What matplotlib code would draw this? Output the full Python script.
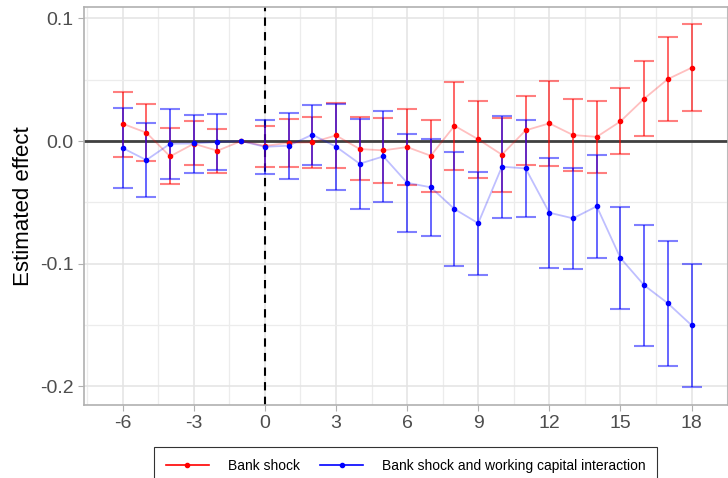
import matplotlib
matplotlib.use("Agg")
import matplotlib.pyplot as plt
from matplotlib.ticker import MultipleLocator
import numpy as np

plt.rcParams['font.family'] = ['Liberation Sans', 'DejaVu Sans']
plt.rcParams['axes.unicode_minus'] = False

periodos = [-6, -5, -4, -3, -2, -1, 0, 1, 2, 3, 4, 5, 6, 7, 8, 9, 10, 11, 12, 13, 14, 15, 16, 17, 18]

# Bank shock
banco = [0.0141, 0.0068, -0.0125, -0.0022, -0.0079, 0.0, -0.0040, -0.0014, -0.0011, 0.0046, -0.0065, -0.0076, -0.0049,
         -0.0120, 0.0125, 0.0014, -0.0111, 0.0087, 0.0144, 0.0049, 0.0034, 0.0160, 0.0345, 0.0505, 0.0597]
banco_sup = [0.0402, 0.0301, 0.0103, 0.0160, 0.0100, 0.0, 0.0120, 0.0182, 0.0195, 0.0307, 0.0198, 0.0190, 0.0258,
             0.0174, 0.0483, 0.0323, 0.0190, 0.0369, 0.0489, 0.0345, 0.0323, 0.0429, 0.0649, 0.0847, 0.0950]
banco_inf = [-0.0128, -0.0163, -0.0347, -0.0195, -0.0258, 0.0, -0.0214, -0.0214, -0.0217, -0.0223, -0.0320, -0.0340, -0.0356,
             -0.0415, -0.0236, -0.0299, -0.0415, -0.0195, -0.0204, -0.0247, -0.0260, -0.0108, 0.0041, 0.0160, 0.0244]

# Bank shock x working capital
inter = [-0.0057, -0.0155, -0.0022, -0.0020, -0.0008, 0.0, -0.0047, -0.0038, 0.0052, -0.0046, -0.0185, -0.0125, -0.0340,
         -0.0377, -0.0554, -0.0670, -0.0209, -0.0223, -0.0584, -0.0630, -0.0532, -0.0953, -0.1175, -0.1322, -0.1501]
inter_sup = [0.0271, 0.0147, 0.0263, 0.0212, 0.0222, 0.0, 0.0168, 0.0230, 0.0296, 0.0300, 0.0182, 0.0242, 0.0059,
             0.0019, -0.0087, -0.0252, 0.0204, 0.0174, -0.0136, -0.0220, -0.0117, -0.0540, -0.0681, -0.0812, -0.1002]
inter_inf = [-0.0383, -0.0453, -0.0310, -0.0258, -0.0236, 0.0, -0.0266, -0.0307, -0.0198, -0.0396, -0.0551, -0.0497, -0.0741,
             -0.0771, -0.1018, -0.1091, -0.0630, -0.0622, -0.1034, -0.1042, -0.0950, -0.1368, -0.1672, -0.1832, -0.2001]

x = np.array(periodos)

fig = plt.figure(figsize=(7.28, 4.78), dpi=100)
ax = fig.add_axes([0.1154, 0.153, 0.884, 0.832])

ax.axhline(0, color="#404040", lw=2, zorder=2)
ax.axvline(0, color="black", lw=1.5, ls=(0, (4, 3)), zorder=2)

for y, sup, inf, col, lab in [(banco, banco_sup, banco_inf, "red", "Bank shock"),
                              (inter, inter_sup, inter_inf, "blue", "Bank shock and working capital interaction")]:
    y = np.array(y)
    err = [y - np.array(inf), np.array(sup) - y]
    mask = x != -1
    _, caps, barras = ax.errorbar(x[mask], y[mask], yerr=[err[0][mask], err[1][mask]], fmt="none",
                                  ecolor=col, elinewidth=1.2, capsize=7, capthick=1.5, zorder=3)
    for c in caps:
        c.set_alpha(0.5)
    for b in barras:
        b.set_alpha(0.7)
    ax.plot(x, y, color=col, lw=1.3, alpha=0.25, zorder=3)
    ax.plot(x, y, ls="none", marker="o", ms=3, color=col, zorder=4)
    ax.plot([], [], color=col, marker="o", ms=3, lw=1.2, label=lab)

ax.set_xlim(-7.63, 19.52)
ax.set_ylim(-0.215, 0.1091)
ax.xaxis.set_major_locator(MultipleLocator(3))
ax.xaxis.set_minor_locator(MultipleLocator(1.5))
ax.yaxis.set_major_locator(MultipleLocator(0.1))
ax.yaxis.set_minor_locator(MultipleLocator(0.05))
ax.set_yticks([0.1, 0.0, -0.1, -0.2])
ax.set_yticklabels(["0.1", "0.0", "-0.1", "-0.2"])
ax.grid(which="major", color="#e3e3e3", lw=1.1, zorder=0)
ax.grid(which="minor", color="#ececec", lw=0.9, zorder=0)
ax.set_axisbelow(True)
ax.tick_params(which="major", length=4, color="#b0b0b0", labelsize=14, labelcolor="#4d4d4d")
ax.tick_params(which="minor", length=0)
for s in ax.spines.values():
    s.set_color("#b0b0b0")
    s.set_linewidth(1.2)
ax.set_ylabel("Estimated effect", fontsize=16)

leg = ax.legend(loc="upper center", bbox_to_anchor=(0.5, -0.1055), borderaxespad=0, ncol=2, fontsize=10,
                frameon=True, fancybox=False, edgecolor="black", handlelength=3.1,
                handletextpad=1.37, columnspacing=1.44, borderpad=0.85)
leg.get_frame().set_linewidth(0.8)

fig.savefig("out.png", dpi=100)
